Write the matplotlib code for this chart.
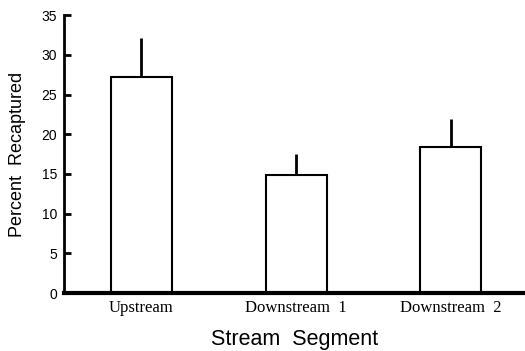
import numpy as np
import matplotlib
matplotlib.use("Agg")
import matplotlib.pyplot as plt

# values
segments = ["Upstream", "Downstream  1", "Downstream  2"]
recaptured = [27.2, 14.9, 18.4]
err_upper = [4.9, 2.6, 3.5]
y_ticks = [0, 5, 10, 15, 20, 25, 30, 35]

fig = plt.figure(figsize=[5.25, 3.51], dpi=100)
ax = fig.add_axes([0.122, 0.165, 0.878, 0.792])

x = np.arange(len(segments))
ax.bar(x, recaptured, width=0.395, color="white", edgecolor="black", linewidth=1.5, zorder=2)

# one-sided error bars (upper only)
ax.errorbar(x, recaptured, yerr=[np.zeros(len(x)), err_upper], fmt="none",
            ecolor="black", elinewidth=2, capsize=0, zorder=3)

ax.set_xlim(-0.5, 2.48)
ax.set_ylim(0, 35)
ax.set_yticks(y_ticks)
ax.set_xticks(x)
ax.set_xticklabels(segments, family="Liberation Serif", fontsize=12)
ax.tick_params(axis="y", direction="in", length=5, width=2, labelsize=10, pad=5)
ax.tick_params(axis="x", length=0, pad=5)
for lbl in ax.get_yticklabels():
    lbl.set_family("Liberation Sans")

ax.spines["top"].set_visible(False)
ax.spines["right"].set_visible(False)
ax.spines["left"].set_linewidth(2)
ax.spines["bottom"].set_linewidth(3)

ax.set_ylabel("Percent  Recaptured", family="Liberation Sans", fontsize=13, labelpad=11)
ax.set_xlabel("Stream  Segment", family="Liberation Sans", fontsize=15.5, labelpad=9)

fig.savefig("out.png", dpi=100)
